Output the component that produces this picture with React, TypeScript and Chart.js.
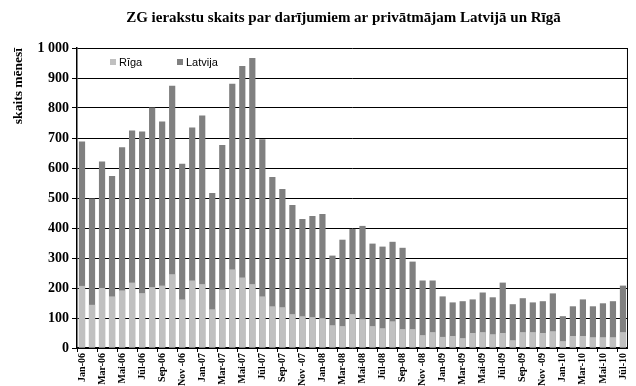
import React, { useEffect, useRef } from "react";
import { Chart, registerables } from "chart.js";

Chart.register(...registerables);

const months = [
  "Jan-06","Feb-06","Mar-06","Apr-06","Mai-06","Jūn-06","Jūl-06","Aug-06","Sep-06","Okt-06","Nov -06","Dec-06",
  "Jan-07","Feb-07","Mar-07","Apr-07","Mai-07","Jūn-07","Jūl-07","Aug-07","Sep-07","Okt-07","Nov -07","Dec-07",
  "Jan-08","Feb-08","Mar-08","Apr-08","Mai-08","Jūn-08","Jūl-08","Aug-08","Sep-08","Okt-08","Nov -08","Dec-08",
  "Jan-09","Feb-09","Mar-09","Apr-09","Mai-09","Jūn-09","Jūl-09","Aug-09","Sep-09","Okt-09","Nov -09","Dec-09",
  "Jan-10","Feb-10","Mar-10","Apr-10","Mai-10","Jūn-10","Jūl-10",
];

const latvija = [
  688, 498, 622, 573, 669, 725, 722, 802, 755, 874, 614, 735,
  775, 517, 677, 881, 940, 967, 696, 570, 530, 477, 430, 440,
  447, 308, 361, 397, 407, 348, 338, 354, 334, 288, 225, 225,
  172, 152, 156, 162, 185, 169, 218, 146, 166, 152, 156, 182,
  106, 139, 162, 139, 149, 156, 208,
];

const riga = [
  207, 144, 200, 172, 192, 218, 183, 203, 208, 246, 162, 225,
  213, 129, 195, 262, 235, 213, 172, 139, 136, 113, 106, 103,
  99, 76, 73, 113, 96, 73, 66, 89, 63, 63, 43, 53,
  37, 40, 33, 50, 53, 46, 50, 26, 53, 53, 50, 56,
  23, 40, 40, 36, 36, 36, 53,
];

const yTicks = [0, 100, 200, 300, 400, 500, 600, 700, 800, 900, 1000];

const titleText = "ZG ierakstu skaits par darījumiem ar privātmājam Latvijā un Rīgā";
const yTitle = "skaits mēnesī";
const seriesNames = ["Rīga", "Latvija"];
const colors = ["#c0c0c0", "#808080"];

const serif = "'Liberation Serif', 'Times New Roman', serif";
const sans = "'Liberation Sans', Arial, sans-serif";

const overlayPlugin = {
  id: "overlay",
  afterDraw(chart: any) {
    const { ctx, chartArea } = chart;
    ctx.save();
    // title
    ctx.font = `bold 15px ${serif}`;
    ctx.fillStyle = "#000";
    ctx.textAlign = "center";
    ctx.textBaseline = "middle";
    ctx.fillText(titleText, (chartArea.left + chartArea.right) / 2 - 9, 18);
    // legend
    ctx.font = `11px ${sans}`;
    ctx.textAlign = "left";
    const items = [
      { x: chartArea.left + 33, name: seriesNames[0], color: colors[0] },
      { x: chartArea.left + 100, name: seriesNames[1], color: colors[1] },
    ];
    const ly = chartArea.top + 14;
    for (const it of items) {
      ctx.fillStyle = it.color;
      ctx.fillRect(it.x, ly - 3, 6, 6);
      ctx.fillStyle = "#000";
      ctx.fillText(it.name, it.x + 9, ly + 0.5);
    }
    // right border
    ctx.strokeStyle = "#000";
    ctx.lineWidth = 1;
    ctx.beginPath();
    ctx.moveTo(chartArea.right - 0.5, chartArea.top);
    ctx.lineTo(chartArea.right - 0.5, chartArea.bottom);
    ctx.stroke();
    ctx.restore();
  },
};

export default function App() {
  const ref = useRef<HTMLCanvasElement | null>(null);
  useEffect(() => {
    if (!ref.current) return;
    const chart = new Chart(ref.current, {
      type: "bar",
      data: {
        labels: months,
        datasets: [
          {
            label: seriesNames[0],
            data: riga,
            backgroundColor: colors[0],
            barPercentage: 0.62,
            categoryPercentage: 1,
            order: 0,
          },
          {
            label: seriesNames[1],
            data: latvija,
            backgroundColor: colors[1],
            barPercentage: 0.62,
            categoryPercentage: 1,
            order: 1,
          },
        ],
      },
      options: {
        animation: false,
        responsive: false,
        maintainAspectRatio: false,
        layout: { padding: { top: 48, right: 4, left: 0, bottom: 0 } },
        plugins: {
          legend: { display: false },
          title: { display: false },
          tooltip: { enabled: false },
        },
        scales: {
          x: {
            stacked: true,
            grid: {
              drawOnChartArea: false,
              drawTicks: true,
              tickLength: 4,
              color: (c: any) => (c.index % 2 === 0 ? "#000" : "rgba(0,0,0,0)"),
            },
            border: { color: "#000", width: 1.5 },
            ticks: {
              autoSkip: false,
              minRotation: 90,
              maxRotation: 90,
              padding: 1,
              color: "#000",
              font: { family: serif, size: 10, weight: "bold" },
              callback: (_v: any, i: number) => (i % 2 === 0 ? months[i] : ""),
            },
            afterFit: (s: any) => {
              s.height = 38;
            },
          },
          y: {
            stacked: false,
            min: 0,
            max: 1000,
            afterBuildTicks: (s: any) => {
              s.ticks = yTicks.map((v) => ({ value: v }));
            },
            grid: {
              color: "#000",
              lineWidth: 1,
              tickLength: 5,
            },
            border: { color: "#000", width: 1.5 },
            ticks: {
              padding: 3,
              color: "#000",
              font: { family: serif, size: 14, weight: "bold" },
              callback: (v: any) => (v === 1000 ? "1 000" : String(v)),
            },
            title: {
              display: true,
              text: yTitle,
              align: "end",
              color: "#000",
              font: { family: serif, size: 13.5, weight: "bold" },
              padding: { top: 10, bottom: 4 },
            },
            afterFit: (s: any) => {
              s.width = 77;
            },
          },
        },
      },
      plugins: [overlayPlugin],
    } as any);
    return () => chart.destroy();
  }, []);
  return (
    <div style={{ position: "absolute", left: 0, top: 0, width: 636, height: 386 }}>
      <canvas ref={ref} width={636} height={386} style={{ width: 636, height: 386 }} />
    </div>
  );
}
